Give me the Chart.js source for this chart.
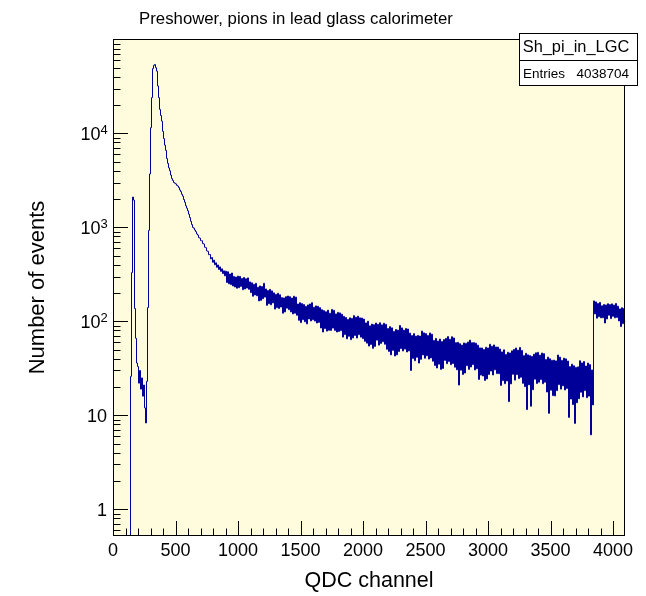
<!DOCTYPE html>
<html><head><meta charset="utf-8">
<script src="https://cdn.jsdelivr.net/npm/chart.js@4.4.0/dist/chart.umd.min.js"></script>
<style>html,body{margin:0;padding:0;background:#fff;}canvas{display:block;}</style>
</head><body>
<canvas id="c" width="646" height="596"></canvas>
<script>
const chartTitle = 'Preshower, pions in lead glass calorimeter';
const xTitle = 'QDC channel';
const yTitle = 'Number of events';
const histName = 'Sh_pi_in_LGC';
const entriesLabel = 'Entries';
const entriesValue = '4038704';
const binWidth = 8;            // QDC channels per bin
const xMin = 0, xMax = 4096;
const yMin = 0.52, yMax = 101000;
const xTickValues = [0, 500, 1000, 1500, 2000, 2500, 3000, 3500, 4000];
const yTickValues = [1, 10, 100, 1000, 10000];

// counts per 8-channel bin (bin i covers channels 8i..8i+8)
const counts = [
0,0,0,0,0,0,0,0,0,0,0,0,0,0,0,0,
0,26,330,2100,1950,137,66,36,33,22,30,19,25,16,21,12,
8.3,23,140,930,3700,11500,24000,49000,53000,54000,50000,46000,32000,24000,18000,15500,
13500,10500,8800,7500,6600,5400,4800,4300,4000,3600,3300,3150,3000,2950,2900,2800,
2750,2650,2500,2400,2250,2150,1980,1850,1700,1600,1500,1380,1270,1160,1070,1000,
980,935,900,852,828,778,768,722,720,672,665,615,608,562,556,512,
515,462,478,425,448,400,420,376,398,356,380,340,362,322,345,305,
342,259,337,251,319,246,327,238,301,232,296,225,303,228,301,235,
286,217,293,221,284,226,290,219,263,202,257,185,248,191,254,187,
231,165,238,167,235,174,254,181,221,148,213,154,219,150,211,157,
201,135,194,140,199,137,192,142,179,122,177.5,126,183,138,186,133,
183,126,177,120,185,122,181,116,153,102.5,158,97,154.5,104,151,99,
144.5,94,149.6,106,153,101,158,104,141.5,100.7,146,96,144.7,97.5,140,85,
133,77,130,83.6,126.5,78.7,131.5,80.3,122,80,134,84.7,131,80,120,77,
124.6,78,123,79.5,119,68,113,72.3,110,65.2,105,69.3,109,63.8,107.6,66.6,
115,70.7,110.6,66.4,113.5,72.1,109,67.9,108.4,65.4,105.7,61.3,96.3,58.6,100.3,54.6,
89.7,56.7,93.5,51.6,92.2,54.1,96,63,93,55.8,96.6,58.2,91.8,60.6,95.4,57,
93,50.4,84,47.8,87.9,44,85.3,49.1,78.2,42.8,81.9,44,80.7,47.7,90.4,51.3,
85.2,48.4,80.6,50.7,84,47.2,82.9,48.4,75,30,70.7,40.3,74,38.1,69.6,41.4,
70.9,36,69.8,39.4,78.8,43.9,75.4,40.5,74.1,43,70.9,39.7,75.2,40.8,73,37.6,
62.7,33.9,65.8,31.9,61.7,35,64.8,30.8,61,31.5,64,38.4,65.9,35.4,68.9,37.4,
64.5,34.6,68.6,35.6,66.6,32.5,59.4,30.5,59.8,21,57.9,30.2,55.9,27.2,58.9,28.2,
58.3,33.7,60.2,30.8,63.1,32.7,59.3,34.6,59.4,30.4,58.5,31.3,55.8,24.1,52.2,26.8,
52.1,26.2,50.2,23.5,53,24.4,52.1,27.2,57,29.6,54.3,26.9,56.1,30.5,53.4,27.8,
53.2,27.7,50.7,20.8,47.3,23.4,49.8,21.7,44.5,23.2,46.9,14,46.1,21.6,48.6,27.3,
50.3,23.7,52,27.1,49.4,24.6,52.8,25.4,49,21.9,43.2,20.2,45.7,11.5,44,21.1,
43.2,12.5,42.4,18.7,44.7,24.2,46.3,21.8,46.8,22.5,43.7,24,46,21.7,45.3,22.5,
39.3,17.7,41.6,10.5,40,18.5,38.5,16.2,38.7,16.1,38,18.3,43.8,21.2,41.6,19,
38.5,20.6,40.6,18.6,39.9,19.3,37.8,9.5,33,14.9,35,13,33.7,8.2,32.4,13.6,
32.8,15,38.1,17.6,36.1,15.7,37.4,18.3,33.5,15.4,36,16,34.7,6.2,30.4,12.9,
165,120,161,108,155,112,159,109,146.5,109,151,96,149.4,106,154,116,
151,107,153.5,113,149,109,155,110,145,101,135.6,88,139.6,94.4,137,99.7
];

const FONT = "'Liberation Sans', Arial, Helvetica, sans-serif";
const frameBg = '#fffcde';
const lineColor = '#000099';

// empty bins sit on the axis floor, as in the log-scale original
const points = counts.map((c, i) => ({ x: i * binWidth, y: c > 0 ? c : yMin }));
points.push({ x: counts.length * binWidth, y: points[points.length - 1].y });

const decor = {
  id: 'decor',
  beforeDraw(chart) {
    const { ctx, chartArea: a } = chart;
    ctx.save();
    ctx.fillStyle = '#fff';
    ctx.fillRect(0, 0, chart.width, chart.height);
    ctx.fillStyle = frameBg;
    ctx.fillRect(a.left, a.top, a.right - a.left, a.bottom - a.top);
    ctx.fillStyle = '#000';
    ctx.font = '16.75px ' + FONT;
    ctx.textAlign = 'center';
    ctx.textBaseline = 'alphabetic';
    ctx.fillText(chartTitle, 296, 23.5);
    ctx.restore();
  },
  beforeDatasetsDraw(chart) {
    // pixel-align the 1px histogram outline
    chart.ctx.save();
    chart.ctx.translate(0.5, 0);
  },
  afterDatasetsDraw(chart) {
    const { ctx, chartArea: a, scales } = chart;
    ctx.restore();
    const xs = scales.x, ys = scales.y;
    ctx.save();
    ctx.strokeStyle = '#000';
    ctx.lineWidth = 1;
    ctx.beginPath();
    for (let c = 0; c <= xMax; c += 100) {
      const px = Math.round(xs.getPixelForValue(c)) + 0.5;
      const len = (c % 500 === 0) ? 15 : 7.5;
      ctx.moveTo(px, a.bottom);
      ctx.lineTo(px, a.bottom - len);
    }
    for (let d = -1; d <= 5; d++) {
      for (let k = 1; k <= 9; k++) {
        const v = k * Math.pow(10, d);
        if (v < yMin || v > yMax) continue;
        const py = Math.round(ys.getPixelForValue(v)) + 0.5;
        const len = (k === 1) ? 15 : 7.5;
        ctx.moveTo(a.left, py);
        ctx.lineTo(a.left + len, py);
      }
    }
    ctx.stroke();
    ctx.strokeRect(a.left + 0.5, a.top + 0.5, a.right - a.left - 1, a.bottom - a.top - 1);

    ctx.fillStyle = '#000';
    ctx.textBaseline = 'alphabetic';
    yTickValues.forEach(v => {
      const py = ys.getPixelForValue(v);
      const e = Math.round(Math.log10(v));
      if (e <= 1) {
        ctx.font = '18px ' + FONT;
        ctx.textAlign = 'right';
        ctx.fillText(String(v), 107, py + 6.7);
      } else {
        ctx.font = '18px ' + FONT;
        ctx.textAlign = 'right';
        ctx.fillText('10', 100.5, py + 6.7);
        ctx.font = '13px ' + FONT;
        ctx.textAlign = 'left';
        ctx.fillText(String(e), 100.5, py + 1);
      }
    });
    ctx.restore();
  },
  afterDraw(chart) {
    const { ctx } = chart;
    const L = 519, T = 33, R = 638, D = 60, B = 86;
    ctx.save();
    ctx.fillStyle = '#fff';
    ctx.fillRect(L, T, R - L, B - T);
    ctx.strokeStyle = '#000';
    ctx.lineWidth = 1;
    ctx.strokeRect(L + 0.5, T + 0.5, R - L - 1, B - T - 1);
    ctx.beginPath();
    ctx.moveTo(L, D + 0.5); ctx.lineTo(R, D + 0.5);
    ctx.stroke();
    ctx.fillStyle = '#000';
    ctx.textBaseline = 'middle';
    ctx.font = '16.4px ' + FONT;
    ctx.textAlign = 'center';
    ctx.fillText(histName, 576, (T + D) / 2 + 1);
    ctx.font = '13.5px ' + FONT;
    ctx.textAlign = 'left';
    ctx.fillText(entriesLabel, L + 4, (D + B) / 2 + 1);
    ctx.textAlign = 'right';
    ctx.fillText(entriesValue, R - 9, (D + B) / 2 + 1);
    ctx.restore();
  }
};

new Chart(document.getElementById('c'), {
  type: 'line',
  data: {
    datasets: [{
      data: points,
      borderColor: lineColor,
      borderWidth: 1,
      pointRadius: 0,
      stepped: 'before',
      fill: false,
      clip: 0
    }]
  },
  options: {
    responsive: false,
    animation: false,
    devicePixelRatio: 1,
    layout: { padding: { left: 0, right: 21, top: 39, bottom: 0 } },
    plugins: {
      legend: { display: false },
      tooltip: { enabled: false },
      title: { display: false }
    },
    scales: {
      x: {
        type: 'linear',
        min: xMin,
        max: xMax,
        grid: { display: false },
        border: { display: false },
        afterBuildTicks: s => { s.ticks = xTickValues.map(v => ({ value: v })); },
        afterFit: s => { s.height = 60; },
        ticks: { color: '#000', font: { family: FONT, size: 18 }, padding: -3.5, maxRotation: 0, autoSkip: false,
                 callback: v => String(v) },
        title: { display: true, text: xTitle, color: '#000', font: { family: FONT, size: 21.5 }, padding: { top: 0, bottom: 2 } }
      },
      y: {
        type: 'logarithmic',
        min: yMin,
        max: yMax,
        grid: { display: false },
        border: { display: false },
        afterBuildTicks: s => { s.ticks = yTickValues.map(v => ({ value: v })); },
        afterFit: s => { s.width = 113; },
        ticks: { display: false },
        title: { display: true, text: yTitle, color: '#000', font: { family: FONT, size: 22 }, padding: { top: 25, bottom: 0 } }
      }
    }
  },
  plugins: [decor]
});
</script>
</body></html>
